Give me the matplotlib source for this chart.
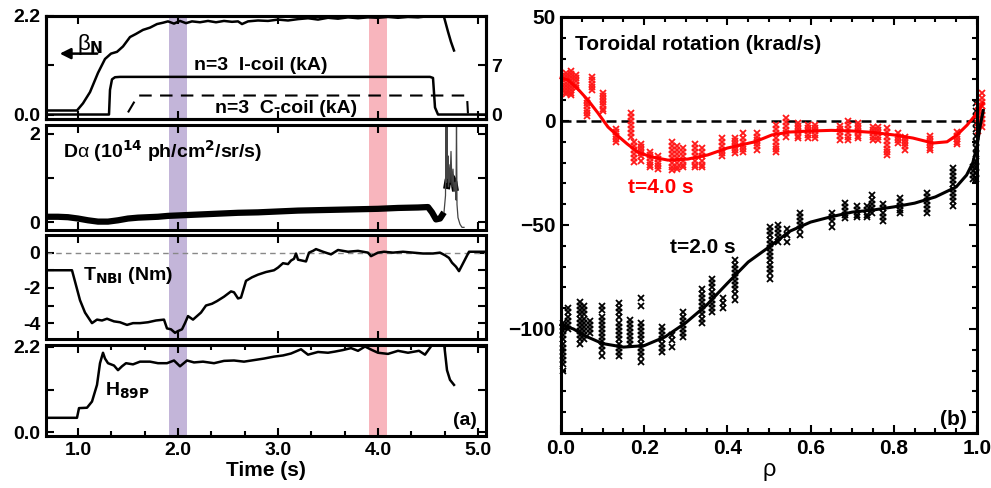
import matplotlib
matplotlib.use("Agg")
import matplotlib.pyplot as plt
from matplotlib.ticker import MultipleLocator, FixedLocator

plt.rcParams["font.family"] = ["Liberation Sans Narrow", "Liberation Sans", "DejaVu Sans"]
plt.rcParams["font.weight"] = "bold"
plt.rcParams["axes.labelweight"] = "bold"
plt.rcParams["mathtext.fontset"] = "custom"
plt.rcParams["mathtext.rm"] = "Liberation Sans Narrow:bold"
plt.rcParams["mathtext.bf"] = "Liberation Sans Narrow:bold"
plt.rcParams["mathtext.it"] = "Liberation Sans:normal"

# ---------------- time traces, panel (a) ----------------
beta_t = [0.68, 0.99, 1.05, 1.12, 1.20, 1.27, 1.33, 1.39, 1.45, 1.52, 1.58, 1.65, 1.72, 1.79,
          1.85, 1.90, 1.96, 2.02, 2.08, 2.14, 2.22, 2.30, 2.38, 2.46, 2.54, 2.60, 2.64, 2.70,
          2.80, 2.90, 3.00, 3.10, 3.20, 3.30, 3.40, 3.50, 3.60, 3.70, 3.80, 3.90, 4.00, 4.10,
          4.20, 4.30, 4.40, 4.48, 4.54, 4.58, 4.63, 4.66, 4.70, 4.73, 4.76]
beta_v = [0.09, 0.09, 0.25, 0.50, 0.93, 1.24, 1.36, 1.40, 1.52, 1.73, 1.80, 1.89, 1.94, 2.02,
          2.05, 2.08, 2.03, 2.09, 2.04, 2.08, 2.06, 2.09, 2.06, 2.09, 2.07, 2.08, 2.02, 2.08,
          2.10, 2.09, 2.12, 2.10, 2.13, 2.15, 2.12, 2.16, 2.14, 2.17, 2.15, 2.17, 2.16, 2.18,
          2.16, 2.18, 2.17, 2.19, 2.22, 2.40, 2.40, 2.18, 1.85, 1.62, 1.43]

icoil_t = [0.68, 1.31, 1.32, 1.34, 1.37, 1.42, 4.52, 4.55, 4.57, 4.60, 5.08]
icoil_v = [0.0, 0.0, 3.5, 5.0, 5.3, 5.35, 5.35, 5.2, 1.0, 0.0, 0.0]

ccoil_t = [1.50, 1.60, 4.89, 4.90]
ccoil_v = [0.3, 2.7, 2.7, 0.0]

da_t = [0.68, 0.80, 0.90, 1.00, 1.10, 1.20, 1.30, 1.40, 1.50, 1.60, 1.70, 1.80, 1.90, 2.00,
        2.20, 2.40, 2.60, 2.80, 3.00, 3.20, 3.40, 3.60, 3.80, 4.00, 4.20, 4.40,
        4.50, 4.54, 4.58, 4.62, 4.66]
da_v = [0.12, 0.12, 0.11, 0.08, 0.04, 0.01, 0.01, 0.04, 0.08, 0.10, 0.11, 0.12, 0.14, 0.15,
        0.17, 0.19, 0.21, 0.22, 0.24, 0.26, 0.27, 0.28, 0.29, 0.30, 0.32, 0.33,
        0.34, 0.22, 0.06, 0.08, 0.22]
spike_t = [4.66, 4.675, 4.68, 4.685, 4.69, 4.695, 4.70, 4.705, 4.71, 4.72, 4.73, 4.74,
           4.75, 4.76, 4.77, 4.78, 4.785, 4.79, 4.80, 4.82, 4.84, 4.86]
spike_v = [0.22, 0.6, 2.3, 0.9, 2.3, 1.0, 1.5, 0.8, 1.3, 0.9, 1.6, 0.8,
           1.2, 0.7, 0.9, 0.5, 2.3, 0.4, 0.1, -0.05, -0.12, -0.12]
burst_t = [4.685, 4.70, 4.72, 4.74, 4.76, 4.775]
burst_v = [0.75, 0.95, 1.05, 1.0, 0.9, 0.7]

tnbi_t = [0.68, 0.94, 1.02, 1.07, 1.14, 1.19, 1.24, 1.29, 1.36, 1.42, 1.49, 1.55, 1.62, 1.70,
          1.78, 1.86, 1.89, 1.93, 1.97, 2.00, 2.04, 2.07, 2.10, 2.15, 2.19, 2.23, 2.28, 2.34,
          2.39, 2.46, 2.53, 2.56, 2.60, 2.63, 2.68, 2.74, 2.80, 2.88, 2.96, 3.00, 3.05, 3.10,
          3.13, 3.16, 3.18, 3.20, 3.24, 3.28, 3.31, 3.35, 3.38, 3.45, 3.53, 3.60, 3.70, 3.80,
          3.90, 3.93, 4.00, 4.06, 4.15, 4.25, 4.35, 4.45, 4.55, 4.62, 4.67, 4.71, 4.74, 4.78,
          4.81, 4.86, 4.91, 5.08]
tnbi_v = [-1.0, -1.0, -2.7, -3.4, -4.0, -3.8, -3.85, -3.75, -3.9, -3.95, -4.1, -4.0, -4.0, -3.95,
          -3.85, -3.8, -4.3, -4.35, -4.55, -4.45, -4.35, -4.0, -3.6, -3.8, -3.6, -3.4, -3.0, -2.9,
          -2.75, -2.5, -2.2, -2.25, -2.6, -2.55, -1.6, -1.4, -1.25, -1.1, -1.0, -0.85, -0.6, -0.65,
          -0.45, -0.35, -0.05, -0.4, -0.45, -0.5, 0.0, 0.1, 0.2, 0.05, -0.1, 0.15, 0.05, 0.1,
          0.0, -0.2, 0.0, 0.05, 0.0, 0.05, 0.0, -0.05, -0.05, 0.0, -0.15, -0.3, -0.57, -0.8,
          -1.05, -0.5, 0.05, 0.05]

h89_t = [0.68, 0.99, 1.01, 1.09, 1.14, 1.19, 1.22, 1.25, 1.27, 1.30, 1.36, 1.40, 1.44, 1.48,
         1.55, 1.62, 1.72, 1.80, 1.89, 1.96, 2.02, 2.09, 2.16, 2.25, 2.36, 2.46, 2.56, 2.66,
         2.76, 2.86, 2.96, 3.05, 3.13, 3.23, 3.30, 3.40, 3.50, 3.57, 3.65, 3.73, 3.80, 3.87,
         3.94, 4.00, 4.10, 4.20, 4.30, 4.41, 4.47, 4.54, 4.58, 4.66, 4.69, 4.72, 4.76]
h89_v = [0.37, 0.37, 0.62, 0.63, 0.79, 1.22, 1.78, 2.05, 1.90, 1.78, 1.72, 1.60, 1.70, 1.78,
         1.75, 1.82, 1.82, 1.78, 1.78, 1.85, 1.70, 1.85, 1.80, 1.82, 1.78, 1.84, 1.85, 1.82,
         1.86, 1.90, 1.95, 1.98, 2.03, 2.14, 2.00, 2.07, 2.05, 2.08, 2.12, 2.17, 2.10, 2.21,
         2.12, 2.05, 2.02, 2.10, 2.05, 2.10, 2.00, 2.25, 2.40, 2.30, 1.60, 1.35, 1.22]

# time windows of the two profiles
win_2s = (1.91, 2.09)
win_4s = (3.91, 4.095)

# ---------------- rotation profiles, panel (b) ----------------
red_ch_rho = [0.012, 0.025, 0.035, 0.063, 0.075, 0.100, 0.132, 0.168, 0.175, 0.192, 0.214,
              0.232, 0.267, 0.280, 0.294, 0.322, 0.340, 0.386, 0.418, 0.437, 0.470, 0.518,
              0.540, 0.570, 0.594, 0.610, 0.670, 0.690, 0.714, 0.750, 0.762, 0.783, 0.810,
              0.827, 0.887, 0.952, 1.003, 1.013]
red_ch_vals = [[23, 21.5, 20, 18.5, 17, 15.5, 14, 13], [24, 22.5, 21, 19.5, 18, 16.5, 15, 13.5, 12.5],
               [22, 20.5, 19, 17.5, 16], [10, 8.5, 7, 5.5, 4, 2.5], [21, 19.5, 18, 16.5, 15],
               [13.5, 12, 10.5, 9, 7.5, 6, 5], [-4, -5.5, -7, -8.5, -10],
               [4, 2, 0, -2, -4, -6, -7.5], [-10, -12, -14, -16, -18, -19.5],
               [-11, -12.5, -14, -15.5, -17, -19], [-15, -16.5, -18, -19.5, -21, -22],
               [-17, -18.5, -20, -21.5, -23], [-10, -12, -14, -16, -18, -20, -22, -23.5],
               [-12, -14, -16, -18, -20, -22, -23], [-13, -15, -17, -19, -21, -22],
               [-11, -13, -15, -17, -19, -21, -22], [-13, -15, -17, -19, -21, -22],
               [-8, -10, -12, -14, -15.5, -17], [-8, -9.5, -11, -12.5, -14, -15.5],
               [-6, -8, -10, -12, -13.5, -15], [-6, -7.5, -9, -10.5, -12, -14],
               [-2, -4, -6, -8, -10, -12, -13.5, -15], [1.5, -0.5, -2.5, -4.5, -6, -7.5],
               [-1, -2.5, -4, -5.5, -7, -8], [-2, -3.5, -5, -6.5, -8], [-2, -3.5, -5, -6.5, -8],
               [-2.5, -4, -5.5, -7, -9], [0, -2, -4, -6, -7.5, -9], [-1, -2.5, -4, -5.5, -7, -8],
               [-3, -4.5, -6, -7.5, -9], [-3, -4.5, -6, -7.5, -9],
               [-3.5, -5.5, -7.5, -9.5, -11.5, -13.5, -15, -16.5],
               [-6, -7.5, -9, -10.5], [-7.5, -9, -10.5, -12, -14], [-7, -8.5, -10, -11.5, -13, -14],
               [-5.5, -7, -8.5, -10, -11], [-5, -3, -1, 1, 3, 5, 7],
               [-3, -1, 1, 3, 5, 7, 9, 11, 13.5]]
red_fit_rho = [0.0, 0.017, 0.04, 0.065, 0.089, 0.113, 0.134, 0.159, 0.185, 0.218, 0.257, 0.305,
               0.353, 0.40, 0.466, 0.507, 0.55, 0.60, 0.65, 0.70, 0.75, 0.80, 0.846, 0.894,
               0.928, 0.952, 0.976, 1.0, 1.015]
red_fit_v = [20.7, 19.7, 15.5, 10, 3.8, -2.9, -6.7, -11, -15, -17.3, -18.8, -18.3,
             -16.3, -13, -10, -6.7, -5.3, -4.8, -4.5, -4.8, -5.5, -6.7, -8.2, -10.6,
             -10, -6.7, -2, 3.8, 8.6]

blk_ch_rho = [0.004, 0.017, 0.045, 0.055, 0.070, 0.098, 0.140, 0.166, 0.192, 0.243, 0.267,
              0.294, 0.338, 0.363, 0.390, 0.418, 0.502, 0.522, 0.543, 0.574, 0.651, 0.683,
              0.711, 0.735, 0.747, 0.775, 0.815, 0.880, 0.943, 0.990, 0.998]
blk_ch_vals = [[-97, -99, -101, -103, -105, -107, -109, -111, -113, -115, -117, -120],
               [-90, -92, -94, -96, -98, -100],
               [-87, -89, -91, -93, -95, -97, -99, -101, -103, -105, -107],
               [-89, -91, -93, -95, -97, -99, -101, -103, -105],
               [-96, -98, -100, -102],
               [-89, -91, -94, -96, -98, -100, -102, -104, -106, -108, -110, -113],
               [-87.5, -90, -92, -94, -97, -99, -101, -103, -105, -107, -109, -111, -113],
               [-95.5, -97.5, -99.5, -101.5, -103.5, -105.5, -107],
               [-85, -89, -97, -99, -101, -103, -105, -107, -109, -111, -113, -116],
               [-99, -101, -103, -105, -107, -109, -111],
               [-103, -105.5, -108.5],
               [-92, -94, -96, -98, -100, -102, -104],
               [-81, -83, -85, -87, -89, -91, -93, -95, -97],
               [-76, -78, -80, -82, -84, -86, -88, -90, -92],
               [-85, -87.5, -90],
               [-67, -69, -71, -73, -75, -77, -79, -81, -83, -86],
               [-51, -53, -55, -57, -59, -61, -63, -65, -67, -69, -71, -73, -76],
               [-50, -52, -54, -56, -58],
               [-52, -55, -58],
               [-44, -46, -48, -50, -52, -55],
               [-44, -46, -48, -51],
               [-39.5, -41.5, -43.5, -45, -46.5],
               [-41, -43, -45, -46],
               [-41, -43, -45, -46],
               [-35.5, -38, -40, -42, -44],
               [-40, -42, -44, -46, -48],
               [-37, -39, -41, -43, -44],
               [-34.5, -36.5, -38.5, -40.5, -42.5, -44],
               [-22.5, -24.5, -26.5, -28.5, -30.5, -32.5, -34.5, -36.5, -38.5, -41],
               [-22, -24, -26, -28],
               [-28, -25, -22, -19, -16, -13, -10, -7, -4, -1, 2, 5, 8.5]]
blk_fit_rho = [0.0, 0.03, 0.06, 0.10, 0.15, 0.20, 0.25, 0.30, 0.35, 0.40, 0.45, 0.50, 0.55,
               0.60, 0.65, 0.70, 0.75, 0.80, 0.85, 0.90, 0.95, 0.975, 0.99, 1.0, 1.008, 1.015]
blk_fit_v = [-98, -100, -103.5, -107, -108.7, -108, -103.8, -97, -88.5, -78, -67.8, -60.6, -53,
             -48.6, -46, -43.8, -42.8, -41.3, -39.5, -36.5, -31.7, -26, -20, -12, -2, 5]

PURPLE = "#c3b5d9"
PINK = "#f8b5bd"
LW = 1.8

fig = plt.figure(figsize=(9.91, 4.88), dpi=100)
W, H = 991.0, 488.0


def box(x0, top, x1, bottom):
    return [x0 / W, 1 - bottom / H, (x1 - x0) / W, (bottom - top) / H]


def style(ax, size):
    for s in ax.spines.values():
        s.set_linewidth(2.2)
    ax.tick_params(which="both", direction="in", top=True, right=True, width=1.5,
                   labelsize=size, pad=4)
    ax.tick_params(which="major", length=6)
    ax.tick_params(which="minor", length=3.5)


axes_a = [fig.add_axes(box(46, 16, 486, 119)), fig.add_axes(box(46, 125, 486, 230)),
          fig.add_axes(box(46, 235, 486, 339)), fig.add_axes(box(46, 345, 486, 436))]
for ax in axes_a:
    style(ax, 14)
    ax.set_xlim(0.68, 5.08)
    ax.xaxis.set_major_locator(FixedLocator([1.0, 2.0, 3.0, 4.0, 5.0]))
    ax.axvspan(*win_2s, color=PURPLE, lw=0, zorder=0)
    ax.axvspan(*win_4s, color=PINK, lw=0, zorder=0)
    if ax is not axes_a[-1]:
        ax.tick_params(labelbottom=False)

# beta_N and coil currents
ax1 = axes_a[0]
ax1.plot(beta_t, beta_v, color="black", lw=LW)
ax1.set_ylim(-0.1, 2.2)
ax1.set_yticks([0.0, 1.1, 2.2])
ax1.set_yticklabels(["0.0", "", "2.2"])
ax1.tick_params(right=False)
ax1.text(0.99, 1.45, r"$\beta_\mathrm{N}$", fontsize=16)
ax1.annotate("", xy=(0.79, 1.36), xytext=(1.22, 1.36),
             arrowprops=dict(arrowstyle="-|>", color="black", lw=1.8, mutation_scale=16))
ax1r = ax1.twinx()
ax1r.plot(icoil_t, icoil_v, color="black", lw=LW)
ax1r.plot(ccoil_t, ccoil_v, color="black", lw=1.5, dashes=(6, 4))
ax1r.set_ylim(-0.636, 14)
ax1r.set_yticks([0, 7])
style(ax1r, 14)
ax1r.tick_params(left=False, top=False)
ax1r.text(2.83, 7.0, "n=3  I-coil (kA)", fontsize=14, ha="center", va="center")
ax1r.text(3.08, 0.9, "n=3  C-coil (kA)", fontsize=14, ha="center", va="center")

# D-alpha
ax2 = axes_a[1]
ax2.plot(da_t, da_v, color="black", lw=4.5, solid_capstyle="butt")
ax2.plot(burst_t, burst_v, color="black", lw=5, solid_capstyle="butt")
ax2.plot(spike_t, spike_v, color="#444444", lw=0.9)
ax2.set_ylim(-0.18, 2.2)
ax2.set_yticks([0, 1, 2])
ax2.set_yticklabels(["0", "", "2"])
ax2.text(0.85, 1.45, r"D$\alpha$ (10$^{14}$ ph/cm$^{2}$/sr/s)", fontsize=14)

# NBI torque
ax3 = axes_a[2]
ax3.axhline(0, color="#888888", lw=1, dashes=(4, 3))
ax3.plot(tnbi_t, tnbi_v, color="black", lw=LW)
ax3.set_ylim(-4.9, 1.0)
ax3.set_yticks([-4, -3, -2, -1, 0])
ax3.set_yticklabels(["-4", "", "-2", "", "0"])
ax3.text(1.05, -1.54, r"T$_\mathrm{NBI}$ (Nm)", fontsize=14)

# H-factor
ax4 = axes_a[3]
ax4.plot(h89_t, h89_v, color="black", lw=LW)
ax4.set_ylim(-0.1, 2.25)
ax4.set_yticks([0.0, 1.1, 2.2])
ax4.set_yticklabels(["0.0", "", "2.2"])
ax4.xaxis.set_minor_locator(MultipleLocator(1 / 3))
ax4.set_xticklabels(["1.0", "2.0", "3.0", "4.0", "5.0"])
ax4.text(1.27, 0.96, r"H$_\mathrm{89P}$", fontsize=14)
ax4.text(0.98, 0.12, "(a)", fontsize=14, ha="right", transform=ax4.transAxes)
ax4.set_xlabel("Time (s)", fontsize=15, fontweight="bold", labelpad=2)

# ---------------- panel (b) ----------------
axb = fig.add_axes(box(561, 17, 977, 433))
style(axb, 15)
axb.set_xlim(0, 1.0)
axb.set_ylim(-150, 50)
axb.xaxis.set_major_locator(MultipleLocator(0.2))
axb.xaxis.set_minor_locator(MultipleLocator(0.05))
axb.set_yticks([50, 0, -50, -100])
axb.yaxis.set_minor_locator(MultipleLocator(10))
axb.xaxis.set_major_formatter(plt.FormatStrFormatter("%.1f"))
axb.axhline(0, color="black", lw=1.8, dashes=(4, 2))

for rho, vals in zip(blk_ch_rho, blk_ch_vals):
    axb.plot([rho] * len(vals), vals, ls="none", marker="x", ms=5, mew=1.3,
             color="black", clip_on=False)
for rho, vals in zip(red_ch_rho, red_ch_vals):
    axb.plot([rho] * len(vals), vals, ls="none", marker="x", ms=5, mew=1.3,
             color="#ff1a1a", clip_on=False)
axb.plot(blk_fit_rho, blk_fit_v, color="black", lw=2.2, clip_on=False)
axb.plot(red_fit_rho, red_fit_v, color="red", lw=2.2, clip_on=False)

axb.text(0.034, 34.1, "Toroidal rotation (krad/s)", fontsize=15)
axb.text(0.161, -34.6, "t=4.0 s", fontsize=15, color="red")
axb.text(0.262, -63.5, "t=2.0 s", fontsize=15, color="black")
axb.text(0.976, -146, "(b)", fontsize=15, ha="right")
axb.set_xlabel(r"$\rho$", fontsize=17, labelpad=2)

fig.savefig("out.png", dpi=100)
